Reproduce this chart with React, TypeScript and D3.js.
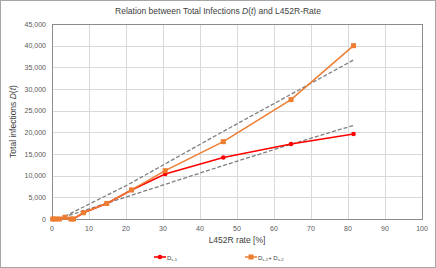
import * as d3 from 'd3';
import { useEffect, useRef } from 'react';

// L452R rate [%]
const rateOrange = [0.2, 0.9, 2.0, 3.5, 5.1, 5.8, 8.5, 14.8, 21.5, 30.6, 46.3, 64.6, 81.5];
const totalOrange = [0, 0, 0, 400, 0, 0, 1450, 3600, 6700, 11150, 17850, 27550, 40000];
const rateRed = [0.2, 0.9, 2.0, 3.5, 5.1, 5.8, 8.5, 14.8, 21.5, 30.6, 46.3, 64.6, 81.5];
const totalRed = [0, 0, 0, 400, 0, 0, 1450, 3600, 6700, 10400, 14200, 17300, 19600];

// trend lines (dashed grey)
const trendUpperX = [2.0, 20.5, 45.4, 81.5];
const trendUpperY = [0, 7900, 19800, 36700];
const trendLowerX = [1.5, 20.5, 45.4, 64.8, 81.5];
const trendLowerY = [0, 5200, 12100, 17300, 21600];

const xTicks = [0, 10, 20, 30, 40, 50, 60, 70, 80, 90, 100];
const yTicks = [0, 5000, 10000, 15000, 20000, 25000, 30000, 35000, 40000, 45000];

const font = '"Liberation Sans", Arial, sans-serif';

export default function App() {
    const ref = useRef<SVGSVGElement>(null);

    useEffect(() => {
        if (!ref.current) return;
        const svg = d3.select(ref.current);
        svg.selectAll('*').remove();

        const W = 436, H = 268;
        const left = 52, right = 422, top = 24, bottom = 219;

        const x = d3.scaleLinear().domain([0, 100]).range([left, right]);
        const y = d3.scaleLinear().domain([0, 45000]).range([bottom, top]);

        svg.append('rect')
            .attr('x', 0.5).attr('y', 0.5).attr('width', W - 1).attr('height', H - 1)
            .attr('fill', '#fff').attr('stroke', '#a6a6a6');

        // grid
        const grid = svg.append('g').attr('stroke', '#d9d9d9').attr('stroke-width', 1);
        xTicks.forEach(t => {
            grid.append('line')
                .attr('x1', Math.round(x(t)) + 0.5).attr('x2', Math.round(x(t)) + 0.5)
                .attr('y1', top).attr('y2', bottom);
        });
        yTicks.forEach(t => {
            grid.append('line')
                .attr('x1', left).attr('x2', right)
                .attr('y1', Math.round(y(t)) + 0.5).attr('y2', Math.round(y(t)) + 0.5);
        });

        svg.append('rect')
            .attr('x', left + 0.5).attr('y', top + 0.5)
            .attr('width', right - left).attr('height', bottom - top)
            .attr('fill', 'none').attr('stroke', '#8c8c8c');

        // tick labels
        svg.append('g').selectAll('text').data(yTicks).enter()
            .append('text')
            .attr('x', left - 6).attr('y', d => y(d) + 2.5)
            .attr('text-anchor', 'end')
            .attr('font-family', font).attr('font-size', 7).attr('fill', '#595959')
            .text(d => d3.format(',')(d));

        svg.append('g').selectAll('text').data(xTicks).enter()
            .append('text')
            .attr('x', d => x(d)).attr('y', bottom + 12)
            .attr('text-anchor', 'middle')
            .attr('font-family', font).attr('font-size', 7).attr('fill', '#595959')
            .text(d => d);

        // trend lines
        const line = d3.line<[number, number]>().x(d => x(d[0])).y(d => y(d[1]));
        const dashed = (xs: number[], ys: number[]) => {
            svg.append('path')
                .attr('d', line(xs.map((v, i) => [v, ys[i]] as [number, number])))
                .attr('fill', 'none').attr('stroke', '#7f7f7f')
                .attr('stroke-width', 1.3).attr('stroke-dasharray', '4,2');
        };
        dashed(trendUpperX, trendUpperY);
        dashed(trendLowerX, trendLowerY);

        // red series
        const redPts = rateRed.map((v, i) => [v, totalRed[i]] as [number, number]);
        svg.append('path').attr('d', line(redPts))
            .attr('fill', 'none').attr('stroke', '#ff0000').attr('stroke-width', 1.6);
        svg.append('g').selectAll('circle').data(redPts).enter()
            .append('circle')
            .attr('cx', d => x(d[0])).attr('cy', d => y(d[1])).attr('r', 2.3)
            .attr('fill', '#ff0000');

        // orange series
        const orPts = rateOrange.map((v, i) => [v, totalOrange[i]] as [number, number]);
        svg.append('path').attr('d', line(orPts))
            .attr('fill', 'none').attr('stroke', '#ed7d31').attr('stroke-width', 1.5);
        svg.append('g').selectAll('rect').data(orPts).enter()
            .append('rect')
            .attr('x', d => x(d[0]) - 2.5).attr('y', d => y(d[1]) - 2.5)
            .attr('width', 5).attr('height', 5)
            .attr('fill', '#ed7d31');

        // title
        const title = svg.append('text')
            .attr('x', 218).attr('y', 14).attr('text-anchor', 'middle')
            .attr('font-family', font).attr('font-size', 8.5).attr('fill', '#404040');
        title.append('tspan').text('Relation between Total Infections ');
        title.append('tspan').attr('font-style', 'italic').text('D');
        title.append('tspan').text('(');
        title.append('tspan').attr('font-style', 'italic').text('t');
        title.append('tspan').text(') and L452R-Rate');

        // axis titles
        svg.append('text')
            .attr('x', (left + right) / 2).attr('y', 243).attr('text-anchor', 'middle')
            .attr('font-family', font).attr('font-size', 8.5).attr('fill', '#404040')
            .text('L452R rate [%]');

        const yt = svg.append('text')
            .attr('transform', `translate(16,${(top + bottom) / 2}) rotate(-90)`)
            .attr('text-anchor', 'middle')
            .attr('font-family', font).attr('font-size', 8.5).attr('fill', '#404040');
        yt.append('tspan').text('Total infections ');
        yt.append('tspan').attr('font-style', 'italic').text('D');
        yt.append('tspan').text('(');
        yt.append('tspan').attr('font-style', 'italic').text('t');
        yt.append('tspan').text(')');

        // legend
        const lg = svg.append('g').attr('font-family', font).attr('fill', '#404040');
        lg.append('line').attr('x1', 154).attr('x2', 166).attr('y1', 257).attr('y2', 257)
            .attr('stroke', '#ff0000').attr('stroke-width', 1.6);
        lg.append('circle').attr('cx', 160).attr('cy', 257).attr('r', 2.3).attr('fill', '#ff0000');
        const l1 = lg.append('text').attr('x', 167).attr('y', 259.5).attr('font-size', 6);
        l1.append('tspan').text('D');
        l1.append('tspan').attr('font-size', 4.2).attr('dy', 1.5).text('s-1');

        lg.append('line').attr('x1', 245).attr('x2', 257).attr('y1', 257).attr('y2', 257)
            .attr('stroke', '#ed7d31').attr('stroke-width', 1.5);
        lg.append('rect').attr('x', 248.5).attr('y', 254.5).attr('width', 5).attr('height', 5).attr('fill', '#ed7d31');
        const l2 = lg.append('text').attr('x', 258).attr('y', 259.5).attr('font-size', 6);
        l2.append('tspan').text('D');
        l2.append('tspan').attr('font-size', 4.2).attr('dy', 1.5).text('s-1');
        l2.append('tspan').attr('dy', -1.5).text('+ D');
        l2.append('tspan').attr('font-size', 4.2).attr('dy', 1.5).text('s-2');
    }, []);

    return (
        <svg ref={ref} width={436} height={268}
            style={{ position: 'absolute', left: 0, top: 0, display: 'block' }} />
    );
}
